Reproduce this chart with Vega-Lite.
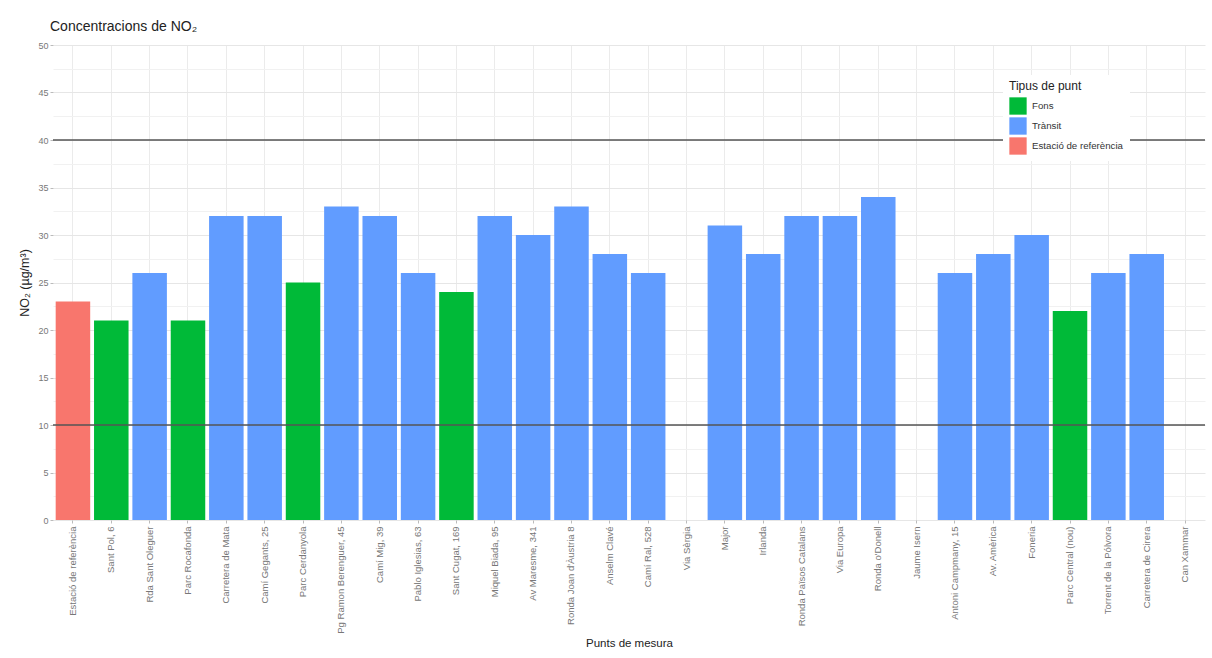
{
  "$schema": "https://vega.github.io/schema/vega-lite/v6.json",
  "width": 1152,
  "height": 475,
  "autosize": {"type": "none"},
  "padding": {"left": 53, "top": 45, "right": 7, "bottom": 138},
  "background": "white",
  "config": {
    "font": "Liberation Sans",
    "view": {"stroke": null},
    "axis": {"labelFont": "Liberation Sans", "titleFont": "Liberation Sans"},
    "legend": {"labelFont": "Liberation Sans", "titleFont": "Liberation Sans"}
  },
  "title": {
    "text": "Concentracions de NO₂",
    "anchor": "start",
    "frame": "group",
    "fontSize": 14,
    "fontWeight": "normal",
    "color": "#222222",
    "offset": 7,
    "dx": -3
  },
  "data": {
    "values": [
      {"punt": "Estació de referència", "tipus": "Estació de referència", "NO2": 23},
      {"punt": "Sant Pol, 6", "tipus": "Fons", "NO2": 21},
      {"punt": "Rda Sant Oleguer", "tipus": "Trànsit", "NO2": 26},
      {"punt": "Parc Rocafonda", "tipus": "Fons", "NO2": 21},
      {"punt": "Carretera de Mata", "tipus": "Trànsit", "NO2": 32},
      {"punt": "Camí Gegants, 25", "tipus": "Trànsit", "NO2": 32},
      {"punt": "Parc Cerdanyola", "tipus": "Fons", "NO2": 25},
      {"punt": "Pg Ramon Berenguer, 45", "tipus": "Trànsit", "NO2": 33},
      {"punt": "Camí Mig, 39", "tipus": "Trànsit", "NO2": 32},
      {"punt": "Pablo Iglesias, 63", "tipus": "Trànsit", "NO2": 26},
      {"punt": "Sant Cugat, 169", "tipus": "Fons", "NO2": 24},
      {"punt": "Miquel Biada, 95", "tipus": "Trànsit", "NO2": 32},
      {"punt": "Av Maresme, 341", "tipus": "Trànsit", "NO2": 30},
      {"punt": "Ronda Joan d'Àustria 8", "tipus": "Trànsit", "NO2": 33},
      {"punt": "Anselm Clavé", "tipus": "Trànsit", "NO2": 28},
      {"punt": "Camí Ral, 528", "tipus": "Trànsit", "NO2": 26},
      {"punt": "Via Sèrgia", "tipus": "Trànsit", "NO2": null},
      {"punt": "Major", "tipus": "Trànsit", "NO2": 31},
      {"punt": "Irlanda", "tipus": "Trànsit", "NO2": 28},
      {"punt": "Ronda Països Catalans", "tipus": "Trànsit", "NO2": 32},
      {"punt": "Via Europa", "tipus": "Trànsit", "NO2": 32},
      {"punt": "Ronda o'Donell", "tipus": "Trànsit", "NO2": 34},
      {"punt": "Jaume Isern", "tipus": "Trànsit", "NO2": null},
      {"punt": "Antoni Campmany, 15", "tipus": "Trànsit", "NO2": 26},
      {"punt": "Av. Amèrica", "tipus": "Trànsit", "NO2": 28},
      {"punt": "Foneria", "tipus": "Trànsit", "NO2": 30},
      {"punt": "Parc Central (nou)", "tipus": "Fons", "NO2": 22},
      {"punt": "Torrent de la Pólvora", "tipus": "Trànsit", "NO2": 26},
      {"punt": "Carretera de Cirera", "tipus": "Trànsit", "NO2": 28},
      {"punt": "Can Xammar", "tipus": "Trànsit", "NO2": null}
    ]
  },
  "resolve": {"axis": {"y": "independent"}},
  "layer": [
    {
      "mark": {"type": "bar"},
      "encoding": {
        "x": {
          "field": "punt",
          "type": "nominal",
          "sort": null,
          "scale": {
            "domain": ["Estació de referència", "Sant Pol, 6", "Rda Sant Oleguer", "Parc Rocafonda", "Carretera de Mata", "Camí Gegants, 25", "Parc Cerdanyola", "Pg Ramon Berenguer, 45", "Camí Mig, 39", "Pablo Iglesias, 63", "Sant Cugat, 169", "Miquel Biada, 95", "Av Maresme, 341", "Ronda Joan d'Àustria 8", "Anselm Clavé", "Camí Ral, 528", "Via Sèrgia", "Major", "Irlanda", "Ronda Països Catalans", "Via Europa", "Ronda o'Donell", "Jaume Isern", "Antoni Campmany, 15", "Av. Amèrica", "Foneria", "Parc Central (nou)", "Torrent de la Pólvora", "Carretera de Cirera", "Can Xammar"],
            "paddingInner": 0.1,
            "paddingOuter": 0.07
          },
          "axis": {
            "title": "Punts de mesura",
            "titleFontSize": 11.5,
            "titleFontWeight": "normal",
            "titleColor": "#222222",
            "titlePadding": 4,
            "labelAngle": 270,
            "labelFontSize": 9.5,
            "labelColor": "#777777",
            "labelPadding": 3,
            "tickSize": 3,
            "tickColor": "#bbbbbb",
            "domain": false,
            "grid": true,
            "gridColor": "#ebebeb",
            "gridWidth": 1
          }
        },
        "y": {
          "field": "NO2",
          "type": "quantitative",
          "scale": {"domain": [0, 50], "nice": false, "zero": true},
          "axis": {
            "title": "NO₂ (µg/m³)",
            "titleFontSize": 12.5,
            "titleFontWeight": "normal",
            "titleColor": "#222222",
            "titlePadding": 6,
            "values": [0, 5, 10, 15, 20, 25, 30, 35, 40, 45, 50],
            "labelFontSize": 9,
            "labelColor": "#777777",
            "labelPadding": 2,
            "tickSize": 3,
            "tickColor": "#bbbbbb",
            "domain": false,
            "grid": true,
            "gridColor": "#e6e6e6",
            "gridWidth": 1
          }
        },
        "color": {
          "field": "tipus",
          "type": "nominal",
          "scale": {
            "domain": ["Fons", "Trànsit", "Estació de referència"],
            "range": ["#00BA38", "#619CFF", "#F8766D"]
          },
          "legend": {
            "title": "Tipus de punt",
            "orient": "none",
            "legendX": 950,
            "legendY": 30,
            "fillColor": "white",
            "padding": 6,
            "titleFontSize": 12,
            "titleFontWeight": "normal",
            "titleColor": "#222222",
            "titlePadding": 4,
            "symbolType": "square",
            "symbolSize": 300,
            "symbolStrokeWidth": 0,
            "symbolOpacity": 1,
            "labelFontSize": 9.7,
            "labelColor": "#333333",
            "labelOffset": 5,
            "rowPadding": 2
          }
        }
      }
    },
    {
      "data": {"values": [{"ref": 10}, {"ref": 40}]},
      "mark": {"type": "rule", "color": "#555555", "strokeWidth": 1.5},
      "encoding": {
        "y": {
          "field": "ref",
          "type": "quantitative",
          "scale": {"domain": [0, 50], "nice": false, "zero": true},
          "axis": {
            "orient": "right",
            "title": null,
            "values": [2.5, 7.5, 12.5, 17.5, 22.5, 27.5, 32.5, 37.5, 42.5, 47.5],
            "labels": false,
            "ticks": false,
            "domain": false,
            "grid": true,
            "gridColor": "#f1f1f1",
            "gridWidth": 1
          }
        }
      }
    }
  ]
}
